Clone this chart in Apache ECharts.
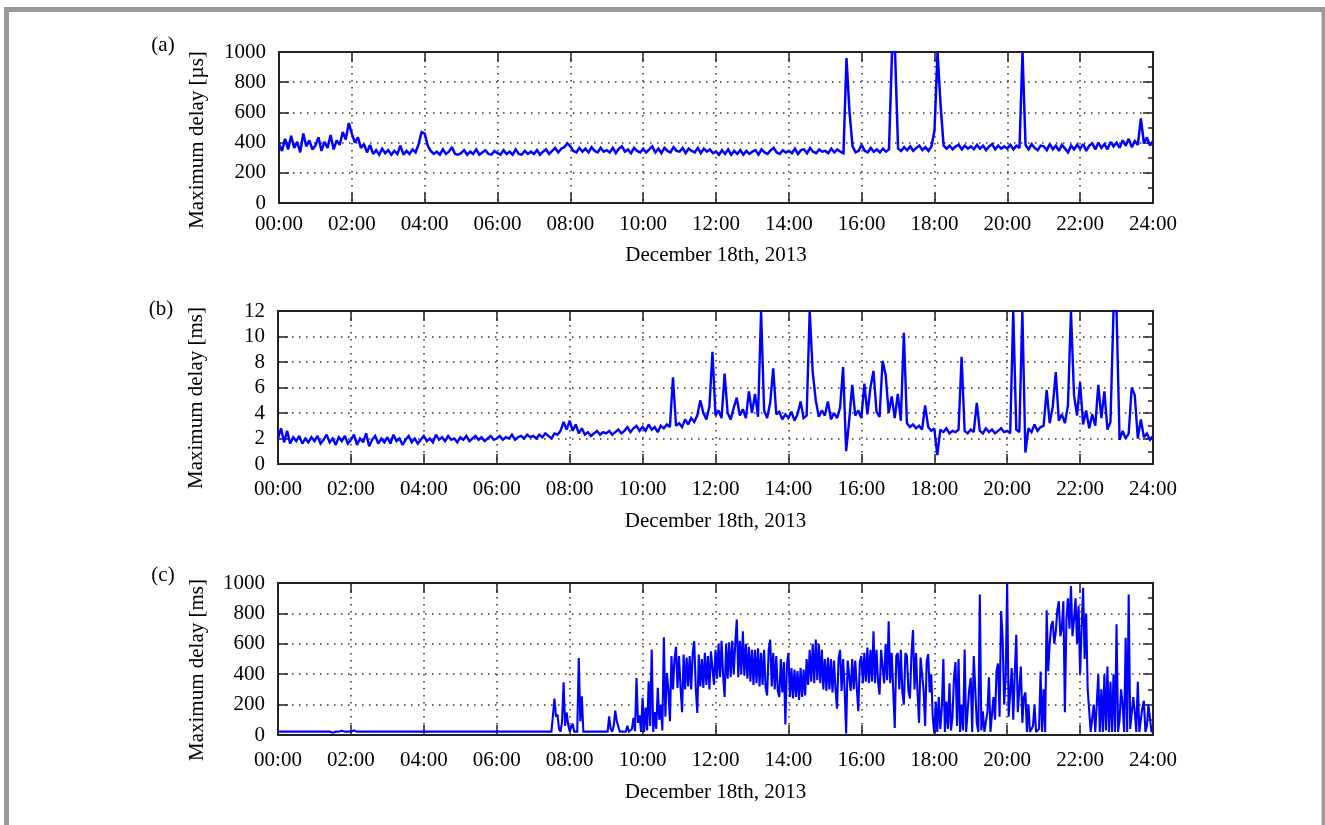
<!DOCTYPE html>
<html>
<head>
<meta charset="utf-8">
<title>Maximum delay, December 18th, 2013</title>
<script src="https://cdn.jsdelivr.net/npm/echarts@6/dist/echarts.min.js"></script>
<style>
  html, body { margin: 0; padding: 0; background: #ffffff; }
  #chart { width: 1325px; height: 825px; }
</style>
</head>
<body>
<div id="chart"></div>
<script>
// Time axis: minutes after midnight, labelled every two hours
const timeTicks = ['00:00', '02:00', '04:00', '06:00', '08:00', '10:00', '12:00',
                   '14:00', '16:00', '18:00', '20:00', '22:00', '24:00'];

// (a) maximum delay in microseconds, 5-minute samples, one row per hour
const stepMinA = 5;
const delayA = [
  390, 345, 425, 355, 445, 365, 405, 335, 460, 375, 415, 355,
  380, 435, 345, 405, 365, 450, 355, 415, 385, 470, 420, 530,
  460, 400, 435, 365, 390, 335, 385, 325, 350, 320, 360, 330,
  350, 320, 345, 325, 380, 320, 345, 325, 355, 335, 390, 470,
  460, 380, 345, 325, 340, 320, 355, 325, 340, 370, 325, 320,
  330, 350, 320, 340, 325, 355, 320, 335, 350, 325, 320, 345,
  330, 320, 350, 325, 340, 320, 355, 325, 320, 345, 325, 340,
  325, 350, 320, 340, 355, 325, 345, 365, 335, 360, 370, 395,
  375, 345, 335, 365, 340, 360, 335, 370, 345, 335, 365, 340,
  350, 335, 365, 330, 360, 375, 340, 355, 330, 365, 345, 335,
  360, 335, 355, 375, 335, 360, 330, 365, 345, 335, 370, 345,
  340, 365, 330, 360, 345, 335, 365, 330, 360, 340, 355, 330,
  340, 320, 350, 325, 355, 320, 345, 325, 350, 320, 345, 325,
  340, 350, 320, 355, 335, 325, 350, 365, 335, 325, 350, 335,
  345, 330, 360, 325, 350, 355, 330, 365, 340, 330, 355, 340,
  345, 330, 360, 335, 355, 340, 330, 960, 600, 375, 335, 345,
  385, 345, 335, 365, 340, 355, 335, 360, 340, 355, 1000, 1000,
  360, 345, 370, 350, 375, 345, 365, 380, 350, 370, 345, 375,
  480, 1000, 650, 380, 360, 380, 355, 375, 385, 355, 380, 360,
  375, 355, 385, 360, 380, 350, 375, 390, 355, 380, 360, 375,
  360, 385, 355, 380, 365, 1000, 385, 355, 390, 365, 350, 380,
  375, 350, 390, 355, 380, 345, 385, 360, 335, 380, 355, 385,
  360, 390, 345, 380, 395, 355, 400, 365, 390, 355, 405, 375,
  400, 365, 415, 380, 425, 370, 410, 385, 560, 395, 435, 380,
  410
];

// (b) maximum delay in milliseconds, 5-minute samples
const stepMinB = 5;
const delayB = [
  2.0, 2.8, 1.7, 2.6, 1.6, 2.1, 1.8, 2.2, 1.6, 2.0, 1.7, 2.1,
  1.8, 2.2, 1.6, 1.9, 2.3, 1.7, 2.0, 1.5, 2.1, 1.8, 2.2, 1.6,
  1.9, 2.3, 1.5, 2.0, 1.7, 2.4, 1.4, 1.9, 2.2, 1.6, 2.0, 1.7,
  2.1, 1.6, 2.3, 1.8, 2.0, 1.5, 1.9, 2.2, 1.7, 2.0, 1.6, 1.9,
  2.2, 1.8, 2.0, 1.7, 2.3, 1.9, 2.1, 1.8, 2.2, 1.9, 2.0, 1.7,
  2.1, 1.9, 2.2, 1.8, 2.0, 2.2, 1.9, 2.1, 1.8, 2.0, 2.2, 1.9,
  2.0, 2.2, 1.9, 2.1, 2.0, 2.3, 1.9, 2.1, 2.2, 2.0, 2.3, 2.1,
  2.2, 2.0, 2.3, 2.1, 2.4, 2.2, 2.0, 2.4, 2.3, 2.6, 3.3, 2.7,
  3.4, 2.6, 3.1, 2.4, 2.8, 2.3, 2.5, 2.2, 2.4, 2.6, 2.3, 2.5,
  2.4, 2.6, 2.3, 2.5, 2.7, 2.4, 2.6, 2.9, 2.5, 2.8, 3.0, 2.6,
  2.9, 2.6, 3.1, 2.7, 2.9, 2.5, 3.0, 2.8, 3.1, 2.9, 6.8, 3.0,
  3.2, 2.9, 3.5, 3.1, 3.6, 3.3, 3.8, 5.0, 4.0, 3.5, 4.5, 8.8,
  3.8, 4.2, 3.6, 7.1, 4.0, 3.5, 4.4, 5.2, 3.8, 4.3, 3.6, 5.7,
  4.0, 5.5, 3.7, 12, 4.2, 3.6, 4.8, 7.5, 3.9, 4.1, 3.5, 3.9,
  3.6, 4.1, 3.4, 3.9, 4.9, 3.6, 3.8, 12, 7.2, 5.0, 3.7, 4.2,
  3.8, 4.9, 3.5, 4.0, 3.6, 4.4, 7.6, 1.0, 3.4, 6.2, 3.8, 4.2,
  3.6, 6.3, 3.9, 6.0, 7.3, 4.1, 3.7, 8.1, 7.0, 4.0, 5.3, 3.6,
  5.5, 3.4, 10.3, 3.2, 2.9, 3.1, 2.8, 3.0, 2.7, 4.6, 2.9, 2.6,
  2.8, 0.7, 2.7, 2.5, 2.8, 2.4, 2.6, 2.5, 2.7, 8.4, 2.6, 2.4,
  2.7, 2.5, 4.8, 2.6, 2.4, 2.8, 2.5, 2.7, 2.4, 2.6, 2.8, 2.5,
  2.6, 2.4, 12, 2.7, 2.5, 12, 0.9, 2.8, 2.5, 3.1, 2.6, 2.9,
  3.0, 5.8, 3.2, 4.5, 7.2, 3.4, 3.9, 3.2, 4.6, 12, 5.4, 3.8,
  6.4, 3.1, 4.2, 2.8, 3.9, 3.0, 6.2, 3.6, 5.7, 2.7, 3.3, 12,
  12, 1.9, 2.6, 2.0, 2.4, 6.0, 5.4, 2.0, 3.5, 2.1, 2.4, 1.9,
  2.2
];

// (c) maximum delay in milliseconds, 2.5-minute samples, one row per hour
const stepMinC = 2.5;
const delayC = [
  22, 22, 22, 22, 22, 22, 22, 22, 22, 22, 22, 22, 22, 22, 22, 22, 22, 22, 22, 22, 22, 22, 22, 22,
  22, 22, 22, 22, 22, 22, 22, 22, 22, 30, 22, 22, 15, 22, 22, 35, 22, 22, 28, 22, 22, 22, 22, 22,
  22, 22, 30, 22, 22, 22, 22, 22, 22, 22, 22, 22, 22, 22, 22, 22, 22, 22, 22, 22, 22, 22, 22, 22,
  22, 22, 22, 22, 22, 22, 22, 22, 22, 22, 22, 22, 22, 22, 22, 22, 22, 22, 22, 22, 22, 22, 22, 22,
  22, 22, 22, 22, 22, 22, 22, 22, 22, 22, 22, 22, 22, 22, 22, 22, 22, 22, 22, 22, 22, 22, 22, 22,
  22, 22, 22, 22, 22, 22, 22, 22, 22, 22, 22, 22, 22, 22, 22, 22, 22, 22, 22, 22, 22, 22, 22, 22,
  22, 22, 22, 22, 22, 22, 22, 22, 22, 22, 22, 22, 22, 22, 22, 22, 22, 22, 22, 22, 22, 22, 22, 22,
  22, 22, 22, 22, 22, 22, 22, 22, 22, 22, 22, 22, 22, 22, 240, 120, 135, 40, 22, 90, 347, 60, 148, 70,
  22, 30, 75, 22, 22, 22, 507, 90, 255, 22, 22, 22, 22, 22, 22, 22, 22, 22, 22, 22, 22, 22, 22, 22,
  22, 22, 122, 40, 22, 60, 160, 90, 80, 22, 22, 22, 22, 22, 60, 22, 22, 40, 112, 25, 375, 80, 130, 20,
  244, 20, 180, 30, 354, 60, 562, 20, 150, 40, 310, 100, 200, 30, 643, 120, 407, 300, 90, 520, 300, 500, 580, 310,
  520, 310, 150, 530, 300, 510, 320, 520, 300, 540, 617, 310, 145, 530, 320, 500, 310, 540, 330, 520, 300, 550, 560, 330,
  560, 370, 600, 380, 620, 390, 250, 600, 370, 610, 380, 620, 400, 600, 760, 380, 620, 400, 683, 390, 600, 370, 580, 350,
  560, 330, 560, 340, 570, 320, 540, 330, 560, 310, 260, 560, 628, 320, 540, 300, 520, 290, 250, 500, 280, 480, 70, 460,
  540, 250, 440, 240, 430, 250, 420, 230, 440, 250, 430, 260, 500, 330, 560, 350, 600, 340, 628, 360, 600, 340, 560, 300,
  500, 290, 510, 300, 500, 280, 490, 300, 173, 500, 560, 290, 500, 300, 10, 490, 500, 290, 500, 300, 490, 310, 156, 480,
  520, 340, 540, 350, 575, 340, 560, 350, 683, 340, 560, 350, 265, 560, 570, 340, 600, 360, 749, 340, 540, 290, 46, 520,
  540, 300, 560, 280, 200, 540, 520, 290, 240, 530, 690, 300, 540, 280, 80, 510, 520, 290, 60, 480, 532, 280, 400, 120,
  10, 220, 20, 250, 40, 180, 500, 20, 220, 40, 340, 30, 120, 380, 480, 60, 500, 20, 200, 30, 562, 20, 15, 300,
  376, 20, 520, 300, 80, 20, 925, 30, 156, 20, 20, 150, 380, 20, 10, 250, 100, 420, 470, 120, 815, 640, 200, 380,
  1000, 120, 280, 440, 100, 400, 660, 150, 300, 450, 80, 250, 280, 20, 200, 20, 20, 60, 200, 20, 10, 40, 417, 20,
  300, 20, 820, 420, 600, 720, 750, 600, 680, 820, 880, 650, 700, 880, 150, 760, 900, 700, 980, 650, 760, 900, 600, 850,
  400, 700, 968, 500, 800, 300, 300, 20, 10, 200, 20, 20, 400, 20, 300, 20, 400, 30, 450, 20, 350, 20, 400, 20,
  728, 20, 100, 300, 200, 20, 640, 20, 925, 40, 50, 250, 150, 20, 350, 20, 20, 180, 225, 20, 60, 200, 200, 20,
  30
];

const SERIF = "'Liberation Serif', 'Times New Roman', 'DejaVu Serif', serif";
const INK = '#222222';
const dottedGrid = { color: '#333333', width: 1.5, type: [1.5, 5.5] };

function toPoints(values, stepMin) {
  return values.map((v, i) => [i * stepMin, v]);
}

const panels = [
  { rect: { left: 279, top: 52, width: 874, height: 151 }, yMax: 1000, yStep: 200,
    points: toPoints(delayA, stepMinA), lineWidth: 2.5, labelMargin: 11, nameGap: 42 },
  { rect: { left: 278, top: 311, width: 875, height: 153 }, yMax: 12, yStep: 2,
    points: toPoints(delayB, stepMinB), lineWidth: 2.4, labelMargin: 15, nameGap: 47 },
  { rect: { left: 278, top: 583, width: 875, height: 152 }, yMax: 1000, yStep: 200,
    points: toPoints(delayC, stepMinC), lineWidth: 2.1, labelMargin: 15, nameGap: 47 }
];

const grid = [], xAxis = [], yAxis = [], series = [];

panels.forEach((p, i) => {
  grid.push(Object.assign({ containLabel: false }, p.rect));
  const tickStyle = { color: INK, width: 1.5 };
  const lineStyle = { color: INK, width: 2 };
  xAxis.push({
    gridIndex: i, type: 'value', position: 'bottom', min: 0, max: 1440, interval: 120,
    axisLine: { show: true, onZero: false, lineStyle },
    axisTick: { show: true, inside: true, length: 10, lineStyle: tickStyle },
    axisLabel: {
      show: true, margin: p.labelMargin, color: '#000', fontFamily: SERIF, fontSize: 21,
      hideOverlap: false, showMinLabel: true, showMaxLabel: true,
      formatter: v => timeTicks[Math.round(v / 120)]
    },
    splitLine: { show: true, lineStyle: dottedGrid },
    name: 'December 18th, 2013', nameLocation: 'middle', nameGap: p.nameGap,
    nameTextStyle: { color: '#000', fontFamily: SERIF, fontSize: 21 }
  });
  xAxis.push({
    gridIndex: i, type: 'value', position: 'top', min: 0, max: 1440, interval: 120,
    axisLine: { show: true, onZero: false, lineStyle },
    axisTick: { show: true, inside: true, length: 10, lineStyle: tickStyle },
    axisLabel: { show: false }, splitLine: { show: false }
  });
  yAxis.push({
    gridIndex: i, type: 'value', position: 'left', min: 0, max: p.yMax, interval: p.yStep,
    axisLine: { show: true, onZero: false, lineStyle },
    axisTick: { show: true, inside: true, length: 10, lineStyle: tickStyle },
    axisLabel: {
      show: true, margin: 13, color: '#000', fontFamily: SERIF, fontSize: 21,
      hideOverlap: false, showMinLabel: true, showMaxLabel: true,
      formatter: v => String(v)
    },
    splitLine: { show: true, lineStyle: dottedGrid }
  });
  yAxis.push({
    gridIndex: i, type: 'value', position: 'right', min: 0, max: p.yMax, interval: p.yStep,
    axisLine: { show: true, onZero: false, lineStyle },
    axisTick: { show: true, inside: true, length: 10, lineStyle: tickStyle },
    minorTick: { show: true, splitNumber: 2, length: 5, lineStyle: tickStyle },
    axisLabel: { show: false }, splitLine: { show: false }
  });
  series.push({
    type: 'line', xAxisIndex: i * 2, yAxisIndex: i * 2,
    data: p.points, showSymbol: false, symbol: 'none',
    sampling: null, clip: true, z: 3,
    lineStyle: { color: '#0000ff', width: p.lineWidth, join: 'miter', miterLimit: 2 }
  });
});

const textStyle = (text, x, y, rot) => ({
  type: 'text', x, y, rotation: rot || 0,
  style: { text, fill: '#000', font: '21px ' + SERIF, align: 'center', verticalAlign: 'middle' }
});

const graphic = [
  { type: 'rect', shape: { x: 6.5, y: 9.5, width: 1317.5, height: 900 },
    style: { fill: 'none', stroke: '#999999', lineWidth: 5 }, silent: true },
  textStyle('(a)', 163, 45, 0),
  textStyle('(b)', 161, 309, 0),
  textStyle('(c)', 163, 575, 0),
  textStyle('Maximum delay [µs]', 197, 140, Math.PI / 2),
  textStyle('Maximum delay [ms]', 196, 398, Math.PI / 2),
  textStyle('Maximum delay [ms]', 197, 670, Math.PI / 2)
];

const chart = echarts.init(document.getElementById('chart'), null, { renderer: 'canvas' });
chart.setOption({
  animation: false,
  backgroundColor: '#ffffff',
  grid, xAxis, yAxis, series, graphic
});
</script>
</body>
</html>
